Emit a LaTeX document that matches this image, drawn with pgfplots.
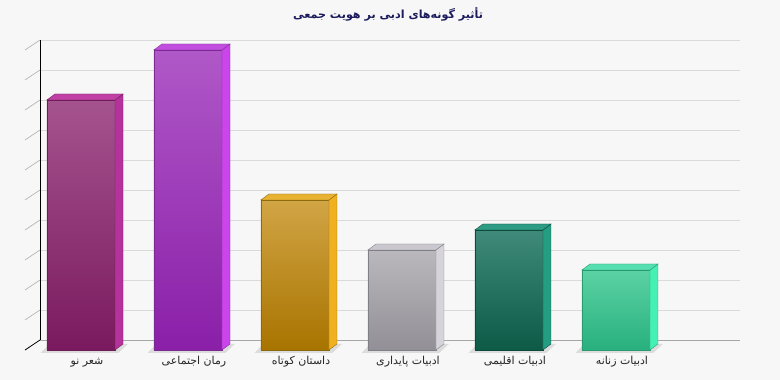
\documentclass[border=0pt]{standalone}
\usepackage{fontspec}
\usepackage{pgfplots}
\pgfplotsset{compat=1.18}
\TeXXeTstate=1
\newfontfamily\arabicfont[Script=Arabic]{DejaVu Sans}
\definecolor{bg}{HTML}{F7F7F7}
\definecolor{gridc}{HTML}{DADADA}
\definecolor{titlec}{HTML}{1C1C5C}
\definecolor{shad}{HTML}{DCDCDC}
% bar colours: front top, front bottom, side, top, outline
\definecolor{aT}{HTML}{A5538F}\definecolor{aB}{HTML}{7A1A5E}\definecolor{aS}{HTML}{B5319C}\definecolor{aU}{HTML}{C040A6}\definecolor{aO}{HTML}{6E1D56}
\definecolor{bT}{HTML}{B058C8}\definecolor{bB}{HTML}{8A1FA8}\definecolor{bS}{HTML}{CC44EC}\definecolor{bU}{HTML}{C24EE0}\definecolor{bO}{HTML}{7A2A90}
\definecolor{cT}{HTML}{D2A545}\definecolor{cB}{HTML}{A87400}\definecolor{cS}{HTML}{F0B020}\definecolor{cU}{HTML}{E8B232}\definecolor{cO}{HTML}{8C6A10}
\definecolor{dT}{HTML}{BAB8BC}\definecolor{dB}{HTML}{929096}\definecolor{dS}{HTML}{D6D4DA}\definecolor{dU}{HTML}{CAC8CE}\definecolor{dO}{HTML}{808088}
\definecolor{eT}{HTML}{3F8A7A}\definecolor{eB}{HTML}{0D5A47}\definecolor{eS}{HTML}{239E82}\definecolor{eU}{HTML}{2E9C84}\definecolor{eO}{HTML}{0D4A3A}
\definecolor{fT}{HTML}{5CD2A4}\definecolor{fB}{HTML}{28B07E}\definecolor{fS}{HTML}{44F0B4}\definecolor{fU}{HTML}{55DFB0}\definecolor{fO}{HTML}{2A9A70}

% #1 x, #2 value, #3 colour prefix
\newcommand{\tdbar}[3]{%
  \pgfmathsetmacro\xl{#1-0.3178}%
  \pgfmathsetmacro\xr{#1+0.3178}%
  \pgfmathsetmacro\xld{#1-0.3178+0.0748}%
  \pgfmathsetmacro\xrd{#1+0.3178+0.0748}%
  \pgfmathsetmacro\vd{#2+0.6}%
  \pgfmathsetmacro\sxl{#1-0.3178-0.06}%
  \pgfmathsetmacro\sxr{#1+0.3178+0.03}%
  \pgfmathsetmacro\sxrd{#1+0.3178+0.12}%
  \pgfmathsetmacro\sxld{#1-0.3178+0.02}%
  \edef\temp{%
    \noexpand\addplot[fill=shad, draw=none] coordinates {(\sxl,-0.3) (\sxr,-0.3) (\sxrd,0.6) (\sxld,0.6)} -- cycle;
    \noexpand\addplot[ybar, bar width=0.6355, bar shift=0pt, draw=#3O, line width=0.5pt, top color=#3T, bottom color=#3B] coordinates {(#1,#2)};
    \noexpand\addplot[fill=#3S, draw=#3O, line width=0.4pt] coordinates {(\xr,0) (\xrd,0.6) (\xrd,\vd) (\xr,#2)} -- cycle;
    \noexpand\addplot[fill=#3U, draw=#3O, line width=0.4pt] coordinates {(\xl,#2) (\xr,#2) (\xrd,\vd) (\xld,\vd)} -- cycle;
  }\temp
}

\begin{document}
\begin{tikzpicture}
\begin{axis}[
  name=ax,
  scale only axis,
  width=780bp, height=380bp,
  xmin=-0.757, xmax=6.533,
  ymin=-3, ymax=35,
  clip=false,
  axis background/.style={fill=bg},
  axis line style={draw=none},
  major tick length=0pt,
  ytick=\empty,
  xtick={0,1,2,3,4,5},
  xticklabels={
    {\beginR شعر نو\endR},
    {\beginR رمان اجتماعی\endR},
    {\beginR داستان کوتاه\endR},
    {\beginR ادبیات پایداری\endR},
    {\beginR ادبیات اقلیمی\endR},
    {\beginR ادبیات زنانه\endR}},
  xticklabel style={font=\arabicfont\fontsize{11}{13}\selectfont, text=black!85, anchor=base, yshift=16bp, xshift=6bp},
  title={\beginR تأثیر گونه‌های ادبی بر هویت جمعی\endR},
  title style={font=\arabicfont\bfseries\fontsize{11.2}{13}\selectfont, text=titlec, at={(rel axis cs:0.4975,0.9526)}, anchor=base, yshift=-6bp},
]
% back wall grid
\pgfplotsinvokeforeach{3,6,...,30}{
  \draw[gridc, line width=0.8pt] (axis cs:-0.383,{#1+1}) -- (axis cs:6.159,{#1+1});
  \draw[gridc!80!black, line width=0.6pt] (axis cs:-0.523,#1) -- (axis cs:-0.383,{#1+1});
}
\draw[black!35, line width=0.8pt] (axis cs:-0.383,1) -- (axis cs:6.159,1);
\draw[black, line width=0.8pt] (axis cs:-0.523,0) -- (axis cs:-0.383,1);
\draw[black, line width=0.8pt] (axis cs:-0.383,1) -- (axis cs:-0.383,31);

\tdbar{0}{25}{a}
\tdbar{1}{30}{b}
\tdbar{2}{15}{c}
\tdbar{3}{10}{d}
\tdbar{4}{12}{e}
\tdbar{5}{8}{f}
\end{axis}
\pgfresetboundingbox
\path (ax.south west) rectangle (ax.north east);
\end{tikzpicture}
\end{document}
